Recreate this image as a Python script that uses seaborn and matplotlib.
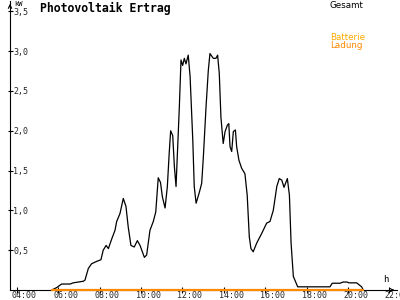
import matplotlib
matplotlib.use("Agg")
import matplotlib.pyplot as plt
import matplotlib.transforms as mtransforms
import seaborn as sns
import pandas as pd

# ---- data (hours of day, kW) ----
time_h = [5.68, 5.92, 6.08, 6.16, 6.57, 6.72, 7.21, 7.29, 7.45, 7.61, 7.86, 8.06,
          8.17, 8.31, 8.42, 8.58, 8.74, 8.82, 8.98, 9.14, 9.27, 9.38, 9.51, 9.67,
          9.82, 9.95, 10.16, 10.27, 10.43, 10.59, 10.71, 10.83, 10.94, 11.03, 11.16,
          11.27, 11.36, 11.43, 11.53, 11.61, 11.69, 11.77, 11.85, 11.93, 12.01, 12.09,
          12.17, 12.28, 12.37, 12.50, 12.57, 12.66, 12.82, 12.93, 13.01, 13.14, 13.25,
          13.33, 13.49, 13.62, 13.70, 13.78, 13.86, 13.97, 14.06, 14.17, 14.24, 14.30,
          14.38, 14.46, 14.56, 14.62, 14.73, 14.86, 15.02, 15.13, 15.23, 15.31, 15.42,
          15.59, 15.83, 16.07, 16.23, 16.39, 16.56, 16.68, 16.80, 16.91, 17.07, 17.17,
          17.25, 17.36, 17.57, 19.13, 19.24, 19.62, 19.76, 19.95, 20.05, 20.42, 20.66,
          20.74]
gesamt_kw = [0.0, 0.03, 0.06, 0.075, 0.075, 0.09, 0.11, 0.125, 0.27, 0.33, 0.36, 0.38,
             0.50, 0.56, 0.52, 0.64, 0.75, 0.86, 0.96, 1.15, 1.05, 0.79, 0.56, 0.54,
             0.62, 0.56, 0.41, 0.44, 0.75, 0.86, 0.98, 1.41, 1.35, 1.17, 1.03,
             1.30, 1.72, 2.00, 1.94, 1.55, 1.30, 1.80, 2.30, 2.89, 2.82, 2.91,
             2.84, 2.95, 2.68, 1.88, 1.30, 1.09, 1.23, 1.34, 1.67, 2.30, 2.76,
             2.97, 2.91, 2.91, 2.95, 2.72, 2.17, 1.84, 1.99, 2.07, 2.09, 1.80,
             1.74, 1.99, 2.01, 1.80, 1.63, 1.53, 1.46, 1.19, 0.67, 0.52, 0.48,
             0.59, 0.71, 0.84, 0.86, 1.00, 1.30, 1.40, 1.38, 1.29, 1.40, 1.19,
             0.59, 0.17, 0.04, 0.04, 0.085, 0.085, 0.10, 0.10, 0.09, 0.09, 0.04,
             0.0]
batterie_time_h = [5.68, 20.74]
batterie_kw = [0.0, 0.0]

y_ticks = [0.5, 1.0, 1.5, 2.0, 2.5, 3.0, 3.5]
y_tick_labels = ["0,5", "1,0", "1,5", "2,0", "2,5", "3,0", "3,5"]
x_ticks = [4, 6, 8, 10, 12, 14, 16, 18, 20, 22]
x_tick_labels = ["04:00", "06:00", "08:00", "10:00", "12:00", "14:00",
                 "16:00", "18:00", "20:00", "22:00"]

title = "Photovoltaik Ertrag"
legend_gesamt = "Gesamt"
legend_batt1 = "Batterie"
legend_batt2 = "Ladung"

df_g = pd.DataFrame({"t": time_h, "kW": gesamt_kw})
df_b = pd.DataFrame({"t": batterie_time_h, "kW": batterie_kw})

sns.set_theme(style="white")
plt.rcParams["font.family"] = ["DejaVu Sans Mono", "DejaVu Sans"]

W, H = 400, 300
fig = plt.figure(figsize=(4, 3), dpi=100)
fig.patch.set_facecolor("white")
ax = fig.add_axes([10 / W, 1 - 290 / H, 387 / W, 289 / H])
ax.set_facecolor("white")

sns.lineplot(data=df_g, x="t", y="kW", ax=ax, color="black", linewidth=0.9,
             estimator=None, sort=False)
sns.lineplot(data=df_b, x="t", y="kW", ax=ax, color="#ff8c00", linewidth=1.6,
             estimator=None, sort=False)
for ln in ax.lines:
    ln.set_clip_on(False)

ax.set_xlim(3.665, 22.37)
ax.set_ylim(0, 3.63)
ax.set_xlabel("")
ax.set_ylabel("")

for s in ["top", "right"]:
    ax.spines[s].set_visible(False)
for s in ["left", "bottom"]:
    ax.spines[s].set_color("black")
    ax.spines[s].set_linewidth(0.8)
    ax.spines[s].set_zorder(1)

ax.set_yticks(y_ticks)
ax.set_yticklabels(y_tick_labels)
ax.set_xticks(x_ticks)
ax.set_xticklabels(x_tick_labels)
ax.tick_params(axis="y", direction="inout", length=3.6, width=0.8, color="black",
               labelsize=6, pad=-4.2, left=True)
ax.tick_params(axis="x", direction="inout", length=4.5, width=0.8, color="black",
               labelsize=6, pad=-1.2, bottom=True)
for lbl in ax.get_yticklabels():
    lbl.set_horizontalalignment("left")
off = mtransforms.ScaledTranslation(-5 / 100, 0, fig.dpi_scale_trans)
for lbl in ax.get_xticklabels():
    lbl.set_horizontalalignment("left")
    lbl.set_transform(lbl.get_transform() + off)

# axis arrows
ax.annotate("", xy=(0, 1.0), xycoords="axes fraction", xytext=(0, 0.97),
            arrowprops=dict(arrowstyle="->", color="black", lw=0.8,
                            mutation_scale=6), annotation_clip=False)
ax.annotate("", xy=(1.0, 0), xycoords="axes fraction", xytext=(0.98, 0),
            arrowprops=dict(arrowstyle="->", color="black", lw=0.8,
                            mutation_scale=6), annotation_clip=False)

fig.text(14 / W, 1 - 1 / H, "kW", fontsize=5, va="top", ha="left",
         color="black")
fig.text(383 / W, 1 - 284 / H, "h", fontsize=6.5, va="bottom", ha="left",
         color="black")

fig.text(40 / W, 1 - 2 / H, title, fontsize=8.3, fontweight="bold",
         va="top", ha="left", color="black", family="DejaVu Sans Mono")
fig.text(330 / W, 1 - 1.5 / H, legend_gesamt, fontsize=6.3, va="top", ha="left",
         color="black", family="DejaVu Sans")
fig.text(330 / W, 1 - 32.5 / H, legend_batt1, fontsize=6.3, va="top", ha="left",
         color="#ffaa00", family="DejaVu Sans")
fig.text(330 / W, 1 - 40.5 / H, legend_batt2, fontsize=6.3, va="top", ha="left",
         color="#ff8800", family="DejaVu Sans")

fig.savefig("out.png", dpi=100, facecolor="white")
